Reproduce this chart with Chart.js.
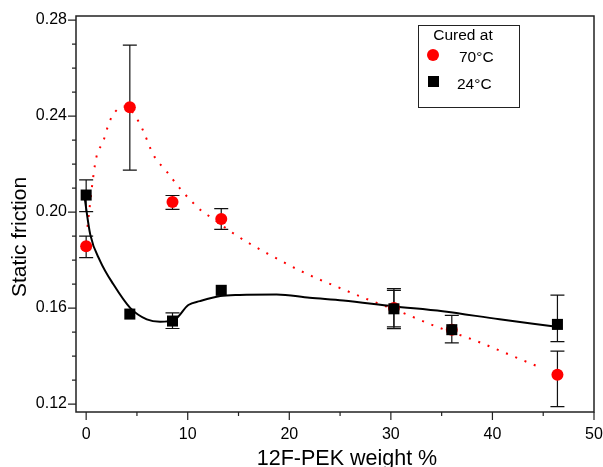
<!DOCTYPE html>
<html>
<head>
<meta charset="utf-8">
<script src="https://cdn.jsdelivr.net/npm/chart.js@4"></script>
<style>
  html, body { margin: 0; padding: 0; background: #fff; }
  #wrap { width: 603px; height: 467px; }
</style>
</head>
<body>
<div id="wrap"><canvas id="chart" width="603" height="467"></canvas></div>
<script>
// =============================================================================
// Data
// =============================================================================

const weights = [0, 4.3, 8.5, 13.3, 30.3, 36, 46.4];

// cured at 70 C (red circles)
const friction70 = [0.1858, 0.2437, 0.2042, 0.1971, 0.1600, 0.1510, 0.1322];
const err70Low = [0.1810, 0.2175, 0.2011, 0.1928, 0.1522, null, 0.1189];
const err70High = [0.1900, 0.2696, 0.2069, 0.2014, 0.1681, null, 0.1421];

// cured at 24 C (black squares)
const friction24 = [0.2071, 0.1575, 0.1546, 0.1674, 0.1597, 0.1510, 0.1532];
const err24Low = [0.2002, null, 0.1515, null, 0.1514, 0.1455, 0.1460];
const err24High = [0.2134, null, 0.1580, null, 0.1674, 0.1570, 0.1654];

// guide curves
const curve70X = [0.13, 0.33, 0.56, 0.98, 1.7, 2.29, 2.85, 3.8, 5.24, 5.8, 6.6, 7.93, 9.4, 11.4, 12.36, 14.16, 15.96, 17.9, 21.5, 25.3, 28.1, 30.9, 34.6, 38.4, 42.0, 44.8];
const curve70Y = [0.1938, 0.2015, 0.2101, 0.2224, 0.2297, 0.2376, 0.2418, 0.2440, 0.2372, 0.2320, 0.2240, 0.2169, 0.2090, 0.2004, 0.1976, 0.1921, 0.1872, 0.1826, 0.1747, 0.1678, 0.1630, 0.1585, 0.1521, 0.1463, 0.1400, 0.1351];

const curve24X = [-0.2, 0.4, 1.38, 2.68, 4.33, 5.97, 7.28, 8.75, 10.06, 11.2, 13.2, 15.1, 18.75, 22.0, 25.3, 30.2, 35.1, 40.7, 44.0, 46.6];
const curve24Y = [0.2075, 0.1907, 0.1796, 0.1699, 0.1601, 0.1553, 0.1543, 0.1553, 0.1613, 0.1629, 0.1650, 0.1655, 0.1657, 0.1643, 0.1632, 0.1608, 0.1587, 0.1553, 0.1535, 0.1520];

// axes
const xMajorTicks = [0, 10, 20, 30, 40, 50];
const xMinorTicks = [5, 15, 25, 35, 45];
const yMajorTicks = [0.12, 0.16, 0.20, 0.24, 0.28];
const yMinorTicks = [0.13, 0.14, 0.15, 0.17, 0.18, 0.19, 0.21, 0.22, 0.23, 0.25, 0.26, 0.27];

const legendTitle = 'Cured at';
const legendLabels = ['70°C', '24°C'];
const xTitle = '12F-PEK weight %';
const yTitle = 'Static friction';

const FONT = '"Liberation Sans", Arial, sans-serif';

// =============================================================================
// Helpers
// =============================================================================

const toPoints = (xs, ys) => xs.map((x, i) => ({ x, y: ys[i] }));

const errorBars = [
  { low: err70Low, high: err70High },
  { low: err24Low, high: err24High }
];

// frame, tick marks, error bars, legend and axis titles
const decorPlugin = {
  id: 'decor',
  beforeDatasetsDraw(chart) {
    const { ctx, scales: { x, y } } = chart;
    ctx.save();
    ctx.strokeStyle = '#111';
    ctx.lineWidth = 1.2;
    errorBars.forEach(eb => {
      weights.forEach((w, i) => {
        if (eb.low[i] == null) return;
        const px = x.getPixelForValue(w);
        const y1 = y.getPixelForValue(eb.low[i]);
        const y2 = y.getPixelForValue(eb.high[i]);
        ctx.beginPath();
        ctx.moveTo(px, y1); ctx.lineTo(px, y2);
        ctx.moveTo(px - 7, y1); ctx.lineTo(px + 7, y1);
        ctx.moveTo(px - 7, y2); ctx.lineTo(px + 7, y2);
        ctx.stroke();
      });
    });
    ctx.restore();
  },
  afterDraw(chart) {
    const { ctx, chartArea: a, scales: { x, y } } = chart;
    ctx.save();

    // frame
    ctx.strokeStyle = '#222';
    ctx.lineWidth = 1.5;
    ctx.strokeRect(a.left, a.top, a.right - a.left, a.bottom - a.top);

    // tick marks (outside)
    ctx.lineWidth = 1.2;
    ctx.beginPath();
    yMajorTicks.forEach(v => { const p = y.getPixelForValue(v); ctx.moveTo(a.left - 8, p); ctx.lineTo(a.left, p); });
    yMinorTicks.forEach(v => { const p = y.getPixelForValue(v); ctx.moveTo(a.left - 4, p); ctx.lineTo(a.left, p); });
    xMajorTicks.forEach(v => { const p = x.getPixelForValue(v); ctx.moveTo(p, a.bottom); ctx.lineTo(p, a.bottom + 8); });
    xMinorTicks.forEach(v => { const p = x.getPixelForValue(v); ctx.moveTo(p, a.bottom); ctx.lineTo(p, a.bottom + 4); });
    ctx.stroke();

    // legend box
    const lx = 418, ly = 25, lw = 101, lh = 82;
    ctx.fillStyle = '#fff';
    ctx.fillRect(lx, ly, lw, lh);
    ctx.strokeStyle = '#222';
    ctx.lineWidth = 1;
    ctx.strokeRect(lx + 0.5, ly + 0.5, lw, lh);
    ctx.fillStyle = '#000';
    ctx.font = '15.5px ' + FONT;
    ctx.textBaseline = 'alphabetic';
    ctx.textAlign = 'center';
    ctx.fillText(legendTitle, 463, 40);
    ctx.textAlign = 'left';
    ctx.fillText(legendLabels[0], 459, 62);
    ctx.fillText(legendLabels[1], 457, 89);
    ctx.fillStyle = '#ff0000';
    ctx.beginPath(); ctx.arc(433, 55, 6, 0, Math.PI * 2); ctx.fill();
    ctx.fillStyle = '#000';
    ctx.fillRect(428, 76, 11, 11);

    // axis titles
    ctx.font = '21.5px ' + FONT;
    ctx.textAlign = 'center';
    ctx.fillText(xTitle, 347, 465);
    ctx.font = '21px ' + FONT;
    ctx.translate(26, 237);
    ctx.rotate(-Math.PI / 2);
    ctx.fillText(yTitle, 0, 0);
    ctx.restore();
  }
};

// =============================================================================
// Chart
// =============================================================================

new Chart(document.getElementById('chart').getContext('2d'), {
  type: 'scatter',
  data: {
    datasets: [
      {
        label: legendLabels[1],
        data: toPoints(weights, friction24),
        pointStyle: 'rect',
        pointRadius: 7.8,
        pointHoverRadius: 7.8,
        backgroundColor: '#000',
        borderColor: '#000',
        borderWidth: 0,
        order: 0
      },
      {
        label: legendLabels[0],
        data: toPoints(weights, friction70),
        pointStyle: 'circle',
        pointRadius: 6,
        pointHoverRadius: 6,
        backgroundColor: '#ff0000',
        borderColor: '#ff0000',
        borderWidth: 0,
        order: 1
      },
      {
        label: 'fit 24',
        data: toPoints(curve24X, curve24Y),
        showLine: true,
        pointRadius: 0,
        borderColor: '#000',
        borderWidth: 2,
        cubicInterpolationMode: 'monotone',
        order: 2
      },
      {
        label: 'fit 70',
        data: toPoints(curve70X, curve70Y),
        showLine: true,
        pointRadius: 0,
        borderColor: '#ff0000',
        borderWidth: 2,
        borderDash: [2, 8],
        cubicInterpolationMode: 'monotone',
        order: 3
      }
    ]
  },
  options: {
    responsive: false,
    animation: false,
    layout: { padding: { top: 16, right: 9, left: 0, bottom: 0 } },
    plugins: {
      legend: { display: false },
      tooltip: { enabled: false }
    },
    scales: {
      x: {
        type: 'linear',
        min: -1,
        max: 50,
        grid: { display: false, drawTicks: false },
        border: { display: false },
        afterBuildTicks: s => { s.ticks = xMajorTicks.map(v => ({ value: v })); },
        afterFit: s => { s.height = 55; s.paddingLeft = 0; s.paddingRight = 0; },
        ticks: {
          padding: 13,
          color: '#000',
          font: { family: FONT, size: 16 },
          maxRotation: 0,
          callback: v => String(v)
        }
      },
      y: {
        type: 'linear',
        min: 0.1167,
        max: 0.2817,
        grid: { display: false, drawTicks: false },
        border: { display: false },
        afterBuildTicks: s => { s.ticks = yMajorTicks.map(v => ({ value: v })); },
        afterFit: s => { s.width = 76; s.paddingTop = 0; s.paddingBottom = 0; },
        ticks: {
          padding: 9,
          color: '#000',
          font: { family: FONT, size: 16 },
          callback: v => v.toFixed(2)
        }
      }
    }
  },
  plugins: [decorPlugin]
});
</script>
</body>
</html>
